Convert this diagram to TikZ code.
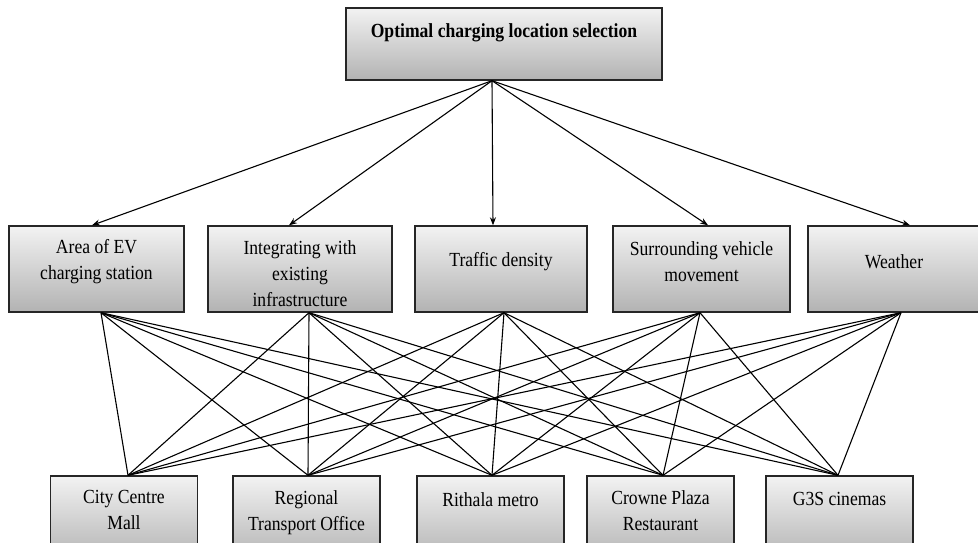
\documentclass[tikz,border=0pt]{standalone}
\usepackage{fontspec}
\setmainfont{Liberation Serif}[FakeStretch=0.88]
\usetikzlibrary{arrows.meta}

\begin{document}
\begin{tikzpicture}[
  x=1pt, y=-1pt,
  font=\fontsize{20}{26}\selectfont,
  box/.style={draw=black!85, line width=1.4pt, top color=black!5, bottom color=black!30, inner sep=0pt},
  topbox/.style={box, minimum width=316pt, minimum height=72pt},
  midbox/.style={box, minimum height=86pt},
  lowbox/.style={box, minimum width=147pt, minimum height=86pt},
  txt/.style={align=center, inner sep=0pt},
  arr/.style={-{Stealth[length=8pt,width=6pt]}, line width=1.1pt},
  link/.style={line width=1.1pt}
]
\useasboundingbox (0,0) rectangle (978,543);
\clip (0,0) rectangle (978,543);

% goal
\node[topbox] (goal) at (504,44) {};
\node[txt, font=\fontsize{20}{26}\selectfont\bfseries] (goal-t) at ([yshift=11pt]goal.center) {Optimal charging location selection};

% criteria
\node[midbox, minimum width=175pt] (area) at (96.5,269) {};
\node[midbox, minimum width=184pt] (integ) at (300,269) {};
\node[midbox, minimum width=172pt] (traffic) at (501,269) {};
\node[midbox, minimum width=177pt] (surr) at (701.5,269) {};
\node[midbox, minimum width=172pt] (weather) at (894,269) {};
\node[txt] (area-t) at ([yshift=7pt]area.center) {Area of EV\\charging station};
\node[txt] (integ-t) at ([yshift=-5pt]integ.center) {Integrating with\\existing\\infrastructure};
\node[txt] (traffic-t) at ([yshift=7pt]traffic.center) {Traffic density};
\node[txt] (surr-t) at ([yshift=7pt]surr.center) {Surrounding vehicle\\movement};
\node[txt] (weather-t) at ([yshift=7pt]weather.center) {Weather};

% alternatives
\node[lowbox] (mall) at (124,519) {};
\node[lowbox] (rto) at (306.5,519) {};
\node[lowbox] (metro) at (490.5,519) {};
\node[lowbox] (plaza) at (660.5,519) {};
\node[lowbox] (g3s) at (839.5,519) {};
\node[txt, anchor=north] (mall-t) at ([yshift=-15pt]mall.north) {City Centre\\Mall};
\node[txt, anchor=north] (rto-t) at ([yshift=-15pt]rto.north) {Regional\\Transport Office};
\node[txt, anchor=north] (metro-t) at ([yshift=-17pt]metro.north) {Rithala metro};
\node[txt, anchor=north] (plaza-t) at ([yshift=-15pt]plaza.north) {Crowne Plaza\\Restaurant};
\node[txt, anchor=north] (g3s-t) at ([yshift=-17pt]g3s.north) {G3S cinemas};

\coordinate (src) at ([xshift=-12pt]goal.south);
\draw[arr] (src) -- ([xshift=-4.5pt]area.north);
\draw[arr] (src) -- ([xshift=-11pt]integ.north);
\draw[arr] (src) -- ([xshift=-8pt]traffic.north);
\draw[arr] (src) -- ([xshift=6.5pt]surr.north);
\draw[arr] (src) -- ([xshift=16pt]weather.north);

% every criterion to every alternative
\foreach \c/\dc in {area/4.5, integ/9, traffic/3, surr/-1.5, weather/7}
  \foreach \a/\da in {mall/4, rto/1.5, metro/1.5, plaza/2.5, g3s/-1.5}
    \draw[link] ([xshift=\dc pt]\c.south) -- ([xshift=\da pt]\a.north);
\end{tikzpicture}
\end{document}
